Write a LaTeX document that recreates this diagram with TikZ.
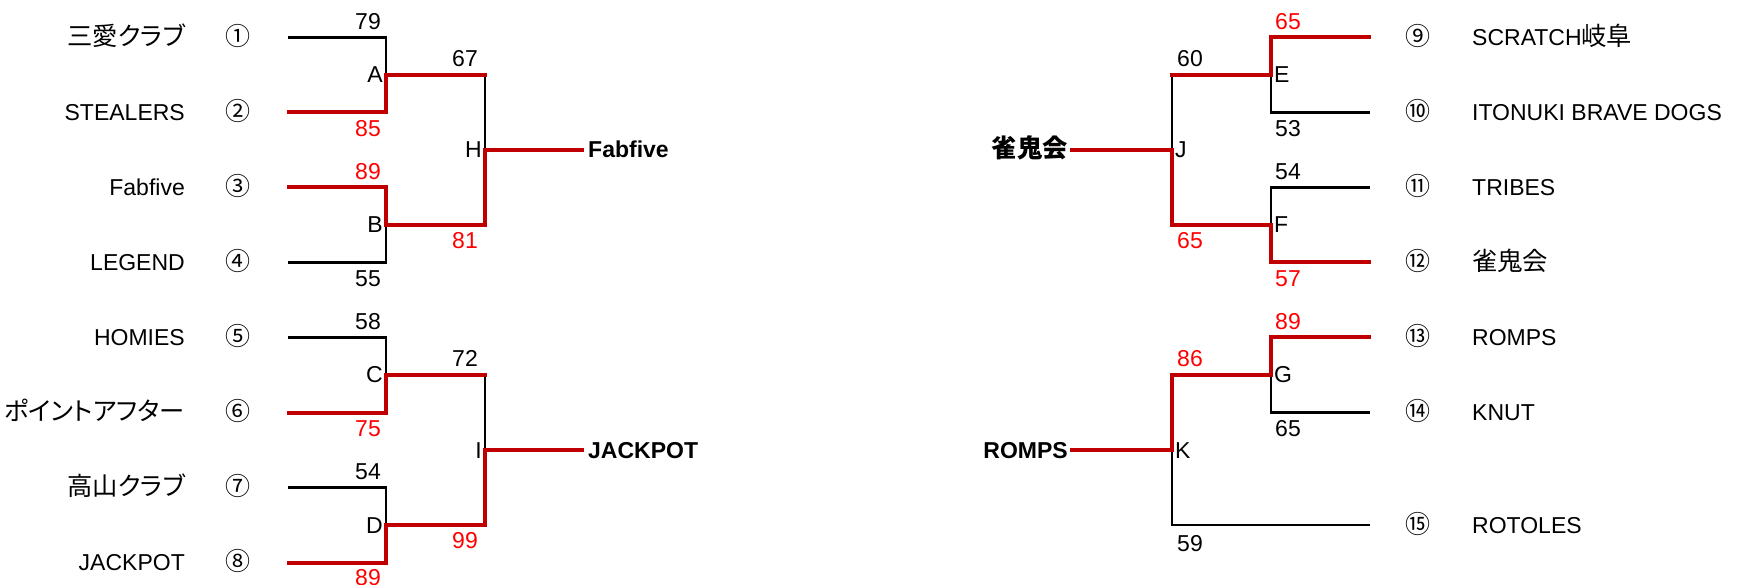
\documentclass[tikz,border=0pt]{standalone}
\usepackage{fontspec}
\setmainfont{Liberation Sans}
\newfontfamily\jp{Noto Sans CJK JP}[RawFeature=+palt,Scale=1.1]
\newfontfamily\jpseed{Noto Sans CJK JP}
\usepackage{tikz,color}
\definecolor{winred}{HTML}{C00000}
\definecolor{ptred}{HTML}{FF0000}

\begin{document}
\begin{tikzpicture}[x=1pt,y=-1pt,
  lose/.style={line width=2.2pt,black,line cap=rect},
  win/.style={line width=4pt,winred,line cap=rect},
  lbl/.style={inner sep=0pt,text height=16pt,text depth=0pt,font=\fontsize{23}{27}\selectfont},
  teamL/.style={lbl,anchor=east},
  teamR/.style={lbl,anchor=west},
  seed/.style={lbl,font=\fontsize{25}{29}\selectfont\jpseed},
  champL/.style={lbl,anchor=west,font=\fontsize{23}{27}\selectfont\bfseries},
  champR/.style={lbl,anchor=east,font=\fontsize{23}{27}\selectfont\bfseries},
  ptL/.style={lbl,anchor=east},
  ptR/.style={lbl,anchor=west},
  wpt/.style={text=ptred},
  gameL/.style={lbl,anchor=east},
  gameR/.style={lbl,anchor=west}]
\useasboundingbox (0,0) rectangle (1741,585);

% left side
\coordinate (s1) at (289,37.5);
\coordinate (s2) at (289,112.5);
\coordinate (s3) at (289,187.5);
\coordinate (s4) at (289,262.5);
\coordinate (s5) at (289,337.5);
\coordinate (s6) at (289,412.5);
\coordinate (s7) at (289,487.5);
\coordinate (s8) at (289,562.5);
\coordinate (jA) at (386,75);
\coordinate (jB) at (386,225);
\coordinate (jC) at (386,375);
\coordinate (jD) at (386,525);
\coordinate (jH) at (485,150);
\coordinate (jI) at (485,450);
\coordinate (fH) at (582,150);
\coordinate (fI) at (582,450);

\draw [lose] (s1) -| (jA);
\draw [lose] (s4) -| (jB);
\draw [lose] (s5) -| (jC);
\draw [lose] (s7) -| (jD);
\draw [lose] (jA) -| (jH);
\draw [lose] (jC) -| (jI);
\draw [win] (s2) -| (jA);
\draw [win] (s3) -| (jB);
\draw [win] (s6) -| (jC);
\draw [win] (s8) -| (jD);
\draw [win] (jA) -- (jA -| jH);
\draw [win] (jB) -| (jH);
\draw [win] (jC) -- (jC -| jI);
\draw [win] (jD) -| (jI);
\draw [win] (jH) -- (fH);
\draw [win] (jI) -- (fI);

\node [teamL] (t1) at (185,37.5) {\jp 三愛クラブ};
\node [teamL] (t2) at (185,112.5) {STEALERS};
\node [teamL] (t3) at (185,187.5) {Fabfive};
\node [teamL] (t4) at (185,262.5) {LEGEND};
\node [teamL] (t5) at (185,337.5) {HOMIES};
\node [teamL] (t6) at (185,412.5) {\jp ポイントアフター};
\node [teamL] (t7) at (185,487.5) {\jp 高山クラブ};
\node [teamL] (t8) at (185,562.5) {JACKPOT};
\node [seed] (c1) at (238,37.5) {①};
\node [seed] (c2) at (238,112.5) {②};
\node [seed] (c3) at (238,187.5) {③};
\node [seed] (c4) at (238,262.5) {④};
\node [seed] (c5) at (238,337.5) {⑤};
\node [seed] (c6) at (238,412.5) {⑥};
\node [seed] (c7) at (238,487.5) {⑦};
\node [seed] (c8) at (238,562.5) {⑧};

\node [gameL] (gA) at (383,75) {A};
\node [gameL] (gB) at (383,225) {B};
\node [gameL] (gC) at (383,375) {C};
\node [gameL] (gD) at (383,525) {D};
\node [gameL] (gH) at (482,150) {H};
\node [gameL] (gI) at (482,450) {I};

\node [ptL] (p1) at (381,21.5) {79};
\node [ptL,wpt] (p2) at (381,128.5) {85};
\node [ptL,wpt] (p3) at (381,171.5) {89};
\node [ptL] (p4) at (381,278.5) {55};
\node [ptL] (p5) at (381,321.5) {58};
\node [ptL,wpt] (p6) at (381,428.5) {75};
\node [ptL] (p7) at (381,471.5) {54};
\node [ptL,wpt] (p8) at (381,577.5) {89};
\node [ptL] (pA) at (478,58.5) {67};
\node [ptL,wpt] (pB) at (478,240.5) {81};
\node [ptL] (pC) at (478,358.5) {72};
\node [ptL,wpt] (pD) at (478,540.5) {99};

\node [champL] (wH) at (588,150) {Fabfive};
\node [champL] (wI) at (588,450) {JACKPOT};

% right side
\coordinate (e9) at (1369,37.5);
\coordinate (e10) at (1369,112.5);
\coordinate (e11) at (1369,187.5);
\coordinate (e12) at (1369,262.5);
\coordinate (e13) at (1369,337.5);
\coordinate (e14) at (1369,412.5);
\coordinate (e15) at (1369,525);
\coordinate (jE) at (1271,75);
\coordinate (jF) at (1271,225);
\coordinate (jG) at (1271,375);
\coordinate (jJ) at (1172,150);
\coordinate (jK) at (1172,450);
\coordinate (fJ) at (1072,150);
\coordinate (fK) at (1072,450);

\draw [lose] (e10) -| (jE);
\draw [lose] (e11) -| (jF);
\draw [lose] (e14) -| (jG);
\draw [lose] (jE) -| (jJ);
\draw [lose] (e15) -| (jK);
\draw [win] (e9) -| (jE);
\draw [win] (e12) -| (jF);
\draw [win] (e13) -| (jG);
\draw [win] (jE) -- (jE -| jJ);
\draw [win] (jF) -| (jJ);
\draw [win] (jG) -| (jK);
\draw [win] (jJ) -- (fJ);
\draw [win] (jK) -- (fK);

\node [seed] (c9) at (1418,37.5) {⑨};
\node [seed] (c10) at (1418,112.5) {⑩};
\node [seed] (c11) at (1418,187.5) {⑪};
\node [seed] (c12) at (1418,262.5) {⑫};
\node [seed] (c13) at (1418,337.5) {⑬};
\node [seed] (c14) at (1418,412.5) {⑭};
\node [seed] (c15) at (1418,525) {⑮};
\node [teamR] (t9) at (1472,37.5) {SCRATCH{\jp 岐阜}};
\node [teamR] (t10) at (1472,112.5) {ITONUKI BRAVE DOGS};
\node [teamR] (t11) at (1472,187.5) {TRIBES};
\node [teamR] (t12) at (1472,262.5) {\jp 雀鬼会};
\node [teamR] (t13) at (1472,337.5) {ROMPS};
\node [teamR] (t14) at (1472,412.5) {KNUT};
\node [teamR] (t15) at (1472,525) {ROTOLES};

\node [gameR] (gE) at (1274,75) {E};
\node [gameR] (gF) at (1274,225) {F};
\node [gameR] (gG) at (1274,375) {G};
\node [gameR] (gJ) at (1175,150) {J};
\node [gameR] (gK) at (1175,450) {K};

\node [ptR,wpt] (p9) at (1275,21.5) {65};
\node [ptR] (p10) at (1275,128.5) {53};
\node [ptR] (p11) at (1275,171.5) {54};
\node [ptR,wpt] (p12) at (1275,278.5) {57};
\node [ptR,wpt] (p13) at (1275,321.5) {89};
\node [ptR] (p14) at (1275,428.5) {65};
\node [ptR] (pE) at (1177,58.5) {60};
\node [ptR,wpt] (pF) at (1177,240.5) {65};
\node [ptR,wpt] (pG) at (1177,358.5) {86};
\node [ptR] (p15) at (1177,543) {59};

\node [champR] (wJ) at (1068,150) {\jp 雀鬼会};
\node [champR] (wK) at (1068,450) {ROMPS};

\end{tikzpicture}
\end{document}
